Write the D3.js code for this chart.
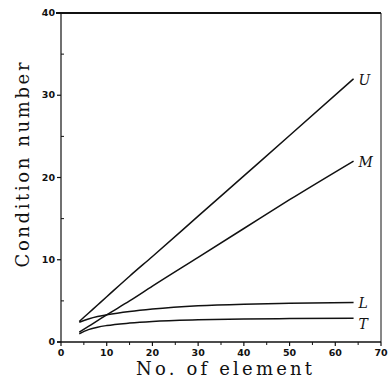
<!DOCTYPE html>
<html>
<head>
<meta charset="utf-8">
<script src="https://cdn.jsdelivr.net/npm/d3@7/dist/d3.min.js"></script>
<style>
  body { margin: 0; background: #fff; }
  svg { display: block; }
  .tick-label { font-family: "DejaVu Sans", sans-serif; font-weight: bold; font-size: 9.5px; fill: #111; }
  .axis-title { font-family: "DejaVu Serif", serif; font-size: 18px; fill: #111; }
  .curve-label { font-family: "DejaVu Serif", serif; font-style: italic; font-size: 14px; fill: #111; }
</style>
</head>
<body>
<svg id="chart" width="389" height="380"></svg>
<script>
// Element count (x) for each sampled point
var elements = [4, 6, 8, 10, 15, 20, 30, 40, 50, 64];

// Condition number per curve
var seriesU = [2.5, 3.5, 4.5, 5.5, 8.0, 10.4, 15.3, 20.2, 25.1, 32.0];
var seriesM = [1.2, 1.9, 2.6, 3.3, 5.0, 6.8, 10.3, 13.8, 17.3, 22.0];
var seriesL = [2.4, 2.8, 3.1, 3.3, 3.7, 4.0, 4.4, 4.6, 4.7, 4.8];
var seriesT = [1.0, 1.5, 1.8, 2.0, 2.3, 2.5, 2.7, 2.8, 2.85, 2.9];

var seriesNames = ['U', 'M', 'L', 'T'];
var xTicks = [0, 10, 20, 30, 40, 50, 60, 70];
var yTicks = [0, 10, 20, 30, 40];

(function () {
  'use strict';

  var svg = d3.select('#chart');
  var x = d3.scaleLinear().domain([0, 70]).range([61, 381]);
  var y = d3.scaleLinear().domain([0, 40]).range([342, 13]);
  var ink = '#111';

  // Frame: left axis, bottom axis, thick top, right edge
  svg.append('line').attr('x1', x(0)).attr('x2', x(0)).attr('y1', y(0)).attr('y2', y(40))
    .attr('stroke', ink).attr('stroke-width', 1.2);
  svg.append('line').attr('x1', x(0) - 4).attr('x2', x(70)).attr('y1', y(0)).attr('y2', y(0))
    .attr('stroke', ink).attr('stroke-width', 1.6);
  svg.append('line').attr('x1', x(0) - 5).attr('x2', x(70)).attr('y1', y(40)).attr('y2', y(40))
    .attr('stroke', ink).attr('stroke-width', 2);
  svg.append('line').attr('x1', x(70)).attr('x2', x(70)).attr('y1', y(0)).attr('y2', y(40))
    .attr('stroke', ink).attr('stroke-width', 1);

  // X ticks (major every 10, minor every 5)
  var xMinor = d3.range(5, 70, 10);
  svg.selectAll('.xmaj').data(xTicks).join('line')
    .attr('x1', function (d) { return x(d); }).attr('x2', function (d) { return x(d); })
    .attr('y1', y(0)).attr('y2', y(0) + 4)
    .attr('stroke', ink).attr('stroke-width', 1.2);
  svg.selectAll('.xmin').data(xMinor).join('line')
    .attr('x1', function (d) { return x(d); }).attr('x2', function (d) { return x(d); })
    .attr('y1', y(0)).attr('y2', y(0) + 3)
    .attr('stroke', ink).attr('stroke-width', 1);
  svg.selectAll('.xlab').data(xTicks).join('text')
    .attr('class', 'tick-label')
    .attr('x', function (d) { return x(d); })
    .attr('y', 356)
    .attr('text-anchor', 'middle')
    .text(function (d) { return d; });

  // Y ticks (major every 10, minor every 5)
  var yMinor = d3.range(5, 40, 10);
  svg.selectAll('.ymaj').data(yTicks).join('line')
    .attr('x1', x(0) - 4).attr('x2', x(0))
    .attr('y1', function (d) { return y(d); }).attr('y2', function (d) { return y(d); })
    .attr('stroke', ink).attr('stroke-width', 1.2);
  svg.selectAll('.ymin').data(yMinor).join('line')
    .attr('x1', x(0)).attr('x2', x(0) + 3)
    .attr('y1', function (d) { return y(d); }).attr('y2', function (d) { return y(d); })
    .attr('stroke', ink).attr('stroke-width', 1);
  svg.selectAll('.ylab').data(yTicks).join('text')
    .attr('class', 'tick-label')
    .attr('x', x(0) - 6)
    .attr('y', function (d) { return y(d) + 3; })
    .attr('text-anchor', 'end')
    .text(function (d) { return d; });

  // Curves
  var allSeries = [seriesU, seriesM, seriesL, seriesT];
  var line = d3.line()
    .x(function (d, i) { return x(elements[i]); })
    .y(function (d) { return y(d); })
    .curve(d3.curveMonotoneX);

  svg.selectAll('.curve').data(allSeries).join('path')
    .attr('d', line)
    .attr('fill', 'none')
    .attr('stroke', ink)
    .attr('stroke-width', 1.5);

  // Curve labels at the right end
  var labelDy = [2, 2, 1, 7];
  svg.selectAll('.clab').data(allSeries).join('text')
    .attr('class', 'curve-label')
    .attr('x', x(elements[elements.length - 1]) + 5)
    .attr('y', function (d, i) { return y(d[d.length - 1]) + 4 + labelDy[i]; })
    .text(function (d, i) { return seriesNames[i]; });

  // Axis titles
  svg.append('text')
    .attr('class', 'axis-title')
    .attr('x', 224).attr('y', 375)
    .attr('text-anchor', 'middle')
    .attr('textLength', 176).attr('lengthAdjust', 'spacing')
    .text('No. of element');

  svg.append('text')
    .attr('class', 'axis-title')
    .attr('transform', 'translate(29,165) rotate(-90)')
    .attr('text-anchor', 'middle')
    .attr('textLength', 205).attr('lengthAdjust', 'spacing')
    .text('Condition number');
})();
</script>
</body>
</html>
